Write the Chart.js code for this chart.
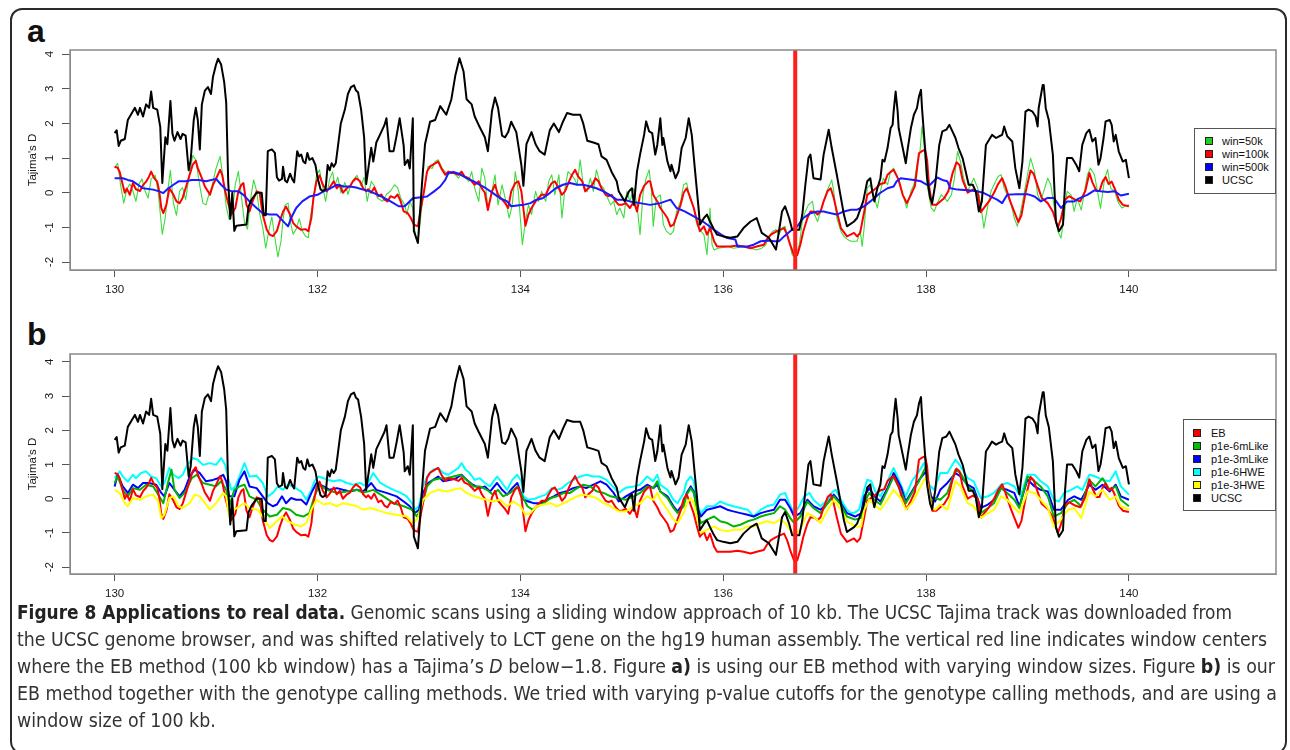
<!DOCTYPE html>
<html>
<head>
<meta charset="utf-8">
<script src="https://cdn.jsdelivr.net/npm/chart.js@4.4.1/dist/chart.umd.min.js"></script>
<style>
  body { margin: 0; width: 1290px; height: 750px; overflow: hidden; position: relative; background: #fff; font-family: "Liberation Sans", Arial, sans-serif; }
  .frame { position: absolute; left: 10px; top: 8px; width: 1277px; height: 746px; border: 2px solid #2a2a2a; border-radius: 12px; box-sizing: border-box; }
  canvas { position: absolute; left: 0; }
  #chartA { top: 0; }
  #chartB { top: 304px; }
  .tag { position: absolute; left: 27px; font-weight: bold; font-size: 32px; line-height: 32px; color: #111; }
  .legend { position: absolute; border: 1px solid #555; background: #fff; box-sizing: border-box; font-size: 11px; color: #111; }
  .legend .row { height: 13px; line-height: 13px; white-space: nowrap; position: relative; }
  .legend .key { position: absolute; top: 2px; width: 8px; height: 8px; border: 1px solid #222; box-sizing: border-box; }
  .legend .txt { position: absolute; top: 0; }
  #caption { position: absolute; left: 17px; top: 599px; font-family: "Liberation Sans Narrow", "DejaVu Sans Condensed", "Liberation Sans", sans-serif; font-stretch: condensed; font-size: 19px; color: #333; }
  #caption .cl { height: 27px; line-height: 27px; white-space: nowrap; transform-origin: 0 0; }
  #caption b { color: #222; }
</style>
</head>
<body>
<div class="frame"></div>
<div class="tag" style="top:15px">a</div>
<div class="tag" style="top:318px">b</div>
<canvas id="chartA" width="1290" height="305"></canvas>
<canvas id="chartB" width="1290" height="305"></canvas>
<div class="legend" id="legendA" style="left:1194px;top:128px;width:82px;height:66px;padding-top:6px"></div>
<div class="legend" id="legendB" style="left:1183px;top:419px;width:93px;height:92px;padding-top:7px"></div>
<div id="caption">
  <div class="cl"><b>Figure 8 Applications to real data.</b> Genomic scans using a sliding window approach of 10 kb. The UCSC Tajima track was downloaded from</div>
  <div class="cl">the UCSC genome browser, and was shifted relatively to LCT gene on the hg19 human assembly. The vertical red line indicates window centers</div>
  <div class="cl">where the EB method (100 kb window) has a Tajima’s <i>D</i> below−1.8. Figure <b>a)</b> is using our EB method with varying window sizes. Figure <b>b)</b> is our</div>
  <div class="cl">EB method together with the genotype calling methods. We tried with varying p-value cutoffs for the genotype calling methods, and are using a</div>
  <div class="cl">window size of 100 kb.</div>
</div>
<script>
// positions in Mb, Tajima's D values
const xTicks = [130, 132, 134, 136, 138, 140];
const yTicks = [-2, -1, 0, 1, 2, 3, 4];
const cutoffPos = [136.71];

const ucsc = [[130.00,1.72],[130.02,1.80],[130.04,1.35],[130.06,1.50],[130.10,1.55],[130.13,2.10],[130.17,2.30],[130.20,2.45],[130.23,2.25],[130.25,2.45],[130.28,2.20],[130.31,2.55],[130.34,2.45],[130.36,2.92],[130.38,2.45],[130.42,2.40],[130.45,1.90],[130.47,0.28],[130.50,1.60],[130.52,1.40],[130.55,2.65],[130.57,1.70],[130.59,1.50],[130.62,1.75],[130.65,1.55],[130.67,1.70],[130.70,1.65],[130.73,0.65],[130.75,0.95],[130.78,2.10],[130.80,2.45],[130.82,2.10],[130.84,1.25],[130.86,2.55],[130.89,2.95],[130.92,3.05],[130.95,2.85],[130.97,3.35],[131.00,3.70],[131.02,3.87],[131.05,3.70],[131.08,3.20],[131.10,2.60],[131.12,0.30],[131.14,-0.75],[131.16,0.00],[131.18,-1.10],[131.20,-0.95],[131.30,-0.92],[131.32,-0.40],[131.35,-0.20],[131.40,0.00],[131.45,0.00],[131.47,-0.65],[131.49,-0.65],[131.51,1.20],[131.55,1.25],[131.58,1.15],[131.60,0.45],[131.62,0.35],[131.65,0.40],[131.66,0.75],[131.68,0.35],[131.70,0.30],[131.73,0.55],[131.75,0.40],[131.77,0.30],[131.80,1.20],[131.82,1.05],[131.84,1.10],[131.86,0.90],[131.88,0.85],[131.90,1.15],[131.92,0.95],[131.95,1.00],[131.98,0.80],[132.00,0.45],[132.03,0.10],[132.05,0.05],[132.08,0.10],[132.10,0.80],[132.12,0.65],[132.14,0.85],[132.16,0.75],[132.18,0.85],[132.20,1.30],[132.23,2.00],[132.27,2.40],[132.30,2.85],[132.33,3.05],[132.36,3.10],[132.38,2.95],[132.40,2.90],[132.43,2.40],[132.46,1.60],[132.48,0.25],[132.53,1.30],[132.55,0.90],[132.58,1.45],[132.62,1.70],[132.66,1.95],[132.68,2.15],[132.71,1.20],[132.75,1.20],[132.78,1.65],[132.81,2.15],[132.85,1.35],[132.86,0.80],[132.89,0.95],[132.91,0.70],[132.94,2.15],[132.95,-1.10],[132.99,-1.45],[133.03,0.25],[133.06,1.40],[133.11,2.05],[133.16,2.10],[133.21,2.50],[133.27,2.25],[133.32,2.70],[133.36,3.40],[133.40,3.88],[133.44,3.50],[133.47,2.70],[133.52,2.55],[133.55,2.20],[133.59,1.95],[133.65,1.60],[133.68,1.20],[133.72,2.35],[133.75,2.75],[133.78,2.45],[133.82,1.65],[133.85,1.60],[133.88,1.75],[133.91,2.05],[133.96,1.75],[134.01,0.80],[134.03,0.20],[134.06,1.40],[134.11,1.75],[134.15,1.40],[134.19,1.20],[134.24,1.10],[134.29,1.80],[134.33,2.00],[134.38,1.75],[134.42,2.05],[134.46,2.30],[134.52,2.25],[134.59,2.25],[134.62,2.00],[134.66,1.50],[134.72,1.45],[134.77,1.40],[134.80,1.05],[134.85,0.95],[134.90,0.60],[134.95,0.33],[134.97,0.04],[135.03,-0.25],[135.07,0.04],[135.10,0.13],[135.12,-0.35],[135.15,0.61],[135.18,1.10],[135.22,1.67],[135.24,2.06],[135.27,1.77],[135.30,1.72],[135.33,1.10],[135.35,1.38],[135.38,2.15],[135.40,1.38],[135.41,1.58],[135.45,0.90],[135.48,0.62],[135.49,0.81],[135.53,0.42],[135.56,0.62],[135.59,1.29],[135.63,1.58],[135.66,2.15],[135.69,1.67],[135.72,0.71],[135.76,-0.54],[135.77,-0.92],[135.81,-0.73],[135.84,-0.63],[135.87,-0.83],[135.91,-1.07],[135.94,-1.21],[136.00,-1.26],[136.07,-1.30],[136.14,-1.26],[136.20,-1.02],[136.27,-0.83],[136.33,-0.73],[136.38,-1.16],[136.45,-1.30],[136.52,-1.64],[136.55,-1.11],[136.58,-0.54],[136.61,-0.39],[136.65,-0.73],[136.68,-1.07],[136.75,-1.07],[136.78,-0.63],[136.81,0.23],[136.84,1.00],[136.86,1.10],[136.89,0.42],[136.96,0.38],[136.99,1.10],[137.04,1.82],[137.07,1.29],[137.12,0.52],[137.19,-0.63],[137.22,-0.97],[137.29,-0.83],[137.32,-0.73],[137.35,-0.49],[137.38,-0.25],[137.42,0.33],[137.45,0.42],[137.47,0.04],[137.49,-0.25],[137.52,0.13],[137.55,0.42],[137.57,0.95],[137.59,0.90],[137.62,1.29],[137.65,1.86],[137.67,1.96],[137.68,2.34],[137.70,2.92],[137.72,2.34],[137.73,1.86],[137.77,1.29],[137.80,0.85],[137.82,1.29],[137.85,1.86],[137.88,2.25],[137.91,2.44],[137.93,2.78],[137.95,2.97],[137.96,2.44],[137.99,1.29],[138.01,0.42],[138.04,-0.15],[138.06,-0.30],[138.09,0.23],[138.13,1.38],[138.16,1.77],[138.20,1.82],[138.23,1.96],[138.26,1.77],[138.29,1.58],[138.32,1.29],[138.36,1.00],[138.39,0.62],[138.42,0.23],[138.46,0.23],[138.49,0.04],[138.52,-0.54],[138.55,-0.25],[138.59,1.38],[138.62,1.52],[138.65,1.67],[138.69,1.58],[138.72,1.63],[138.75,1.67],[138.77,1.91],[138.80,1.63],[138.85,1.48],[138.88,0.71],[138.92,0.13],[138.95,0.90],[138.98,2.34],[139.01,2.40],[139.05,2.34],[139.08,2.20],[139.10,1.91],[139.11,2.44],[139.15,3.11],[139.16,3.11],[139.18,2.44],[139.21,2.10],[139.25,1.10],[139.28,-0.83],[139.31,-1.11],[139.35,-0.92],[139.37,0.23],[139.39,1.00],[139.44,1.00],[139.48,0.81],[139.51,0.62],[139.54,1.38],[139.58,1.72],[139.61,1.82],[139.64,1.48],[139.67,1.58],[139.70,0.81],[139.72,1.00],[139.75,1.58],[139.77,2.06],[139.81,2.10],[139.83,1.96],[139.85,1.48],[139.87,1.67],[139.90,1.19],[139.94,0.90],[139.97,0.95],[140.00,0.42]];

// EB method, 100 kb window (same track as win=100k)
const eb100k = [[130.00,0.75],[130.03,0.72],[130.05,0.60],[130.08,0.23],[130.10,0.00],[130.12,0.12],[130.15,-0.06],[130.18,0.28],[130.21,0.10],[130.25,0.05],[130.28,0.22],[130.31,0.32],[130.34,0.47],[130.36,0.61],[130.39,0.42],[130.42,0.32],[130.44,0.04],[130.46,-0.44],[130.48,-0.59],[130.51,-0.35],[130.54,0.13],[130.58,-0.06],[130.61,-0.25],[130.64,-0.30],[130.67,-0.15],[130.71,0.23],[130.74,0.52],[130.77,0.81],[130.80,0.92],[130.82,0.71],[130.86,0.42],[130.89,0.18],[130.92,0.04],[130.94,-0.06],[130.97,0.23],[131.01,0.47],[131.04,0.66],[131.06,0.52],[131.09,0.04],[131.12,-0.30],[131.15,-0.63],[131.19,-0.44],[131.22,0.04],[131.25,0.23],[131.27,0.28],[131.30,-0.35],[131.33,-0.54],[131.36,-0.25],[131.40,0.04],[131.43,0.00],[131.46,-0.63],[131.50,-1.07],[131.53,-1.21],[131.56,-1.25],[131.60,-1.10],[131.63,-0.80],[131.66,-0.55],[131.69,-0.40],[131.73,-0.63],[131.76,-0.87],[131.79,-0.97],[131.84,-1.07],[131.88,-1.05],[131.91,-1.11],[131.94,-0.72],[131.96,-0.15],[131.99,0.33],[132.02,0.50],[132.05,0.25],[132.09,0.04],[132.12,0.15],[132.16,0.33],[132.19,0.13],[132.22,0.23],[132.25,0.00],[132.29,0.13],[132.32,0.18],[132.35,0.33],[132.38,0.42],[132.42,0.33],[132.45,0.13],[132.48,0.04],[132.50,0.10],[132.53,0.00],[132.56,0.15],[132.60,-0.10],[132.63,-0.05],[132.66,-0.20],[132.69,-0.25],[132.72,-0.10],[132.76,-0.15],[132.79,-0.05],[132.82,-0.25],[132.85,-0.54],[132.89,-0.59],[132.92,-0.73],[132.95,-0.92],[132.99,-0.97],[133.02,-0.44],[133.05,0.04],[133.08,0.61],[133.11,0.76],[133.16,0.85],[133.19,0.90],[133.22,0.71],[133.26,0.52],[133.29,0.61],[133.32,0.57],[133.35,0.57],[133.39,0.52],[133.42,0.61],[133.45,0.47],[133.49,0.42],[133.52,0.33],[133.55,0.23],[133.59,0.33],[133.62,0.13],[133.65,0.00],[133.68,-0.50],[133.72,0.04],[133.75,0.23],[133.78,-0.06],[133.82,-0.20],[133.85,-0.30],[133.88,-0.44],[133.91,0.04],[133.95,0.28],[133.98,0.33],[134.01,0.04],[134.05,-0.95],[134.08,-0.63],[134.11,-0.44],[134.15,-0.25],[134.18,-0.15],[134.21,-0.06],[134.25,-0.06],[134.28,0.13],[134.31,0.28],[134.34,0.33],[134.38,0.13],[134.41,-0.06],[134.44,0.04],[134.48,0.33],[134.51,0.52],[134.54,0.66],[134.57,0.47],[134.61,0.33],[134.64,0.04],[134.67,0.13],[134.71,0.23],[134.74,0.42],[134.77,0.33],[134.80,0.13],[134.84,-0.06],[134.87,-0.10],[134.90,-0.06],[134.94,-0.25],[134.97,-0.35],[135.00,-0.35],[135.04,-0.30],[135.08,-0.44],[135.12,-0.25],[135.15,-0.54],[135.18,-0.06],[135.22,0.20],[135.26,0.33],[135.28,0.33],[135.31,-0.06],[135.35,-0.25],[135.38,-0.44],[135.42,-0.60],[135.45,-0.73],[135.48,-0.97],[135.51,-0.92],[135.55,-0.60],[135.58,-0.35],[135.61,0.00],[135.64,0.13],[135.67,-0.10],[135.71,-0.44],[135.74,-0.80],[135.77,-1.11],[135.81,-0.97],[135.84,-1.21],[135.87,-1.02],[135.91,-1.40],[135.94,-1.55],[136.00,-1.55],[136.07,-1.55],[136.14,-1.52],[136.20,-1.55],[136.27,-1.60],[136.33,-1.55],[136.40,-1.50],[136.43,-1.35],[136.47,-1.21],[136.53,-1.11],[136.60,-1.02],[136.63,-1.21],[136.66,-1.50],[136.70,-1.82],[136.73,-1.80],[136.76,-1.50],[136.79,-1.11],[136.83,-0.73],[136.86,-0.54],[136.90,-0.55],[136.93,-0.63],[136.96,-0.54],[136.99,-0.25],[137.03,0.05],[137.06,0.13],[137.09,-0.15],[137.12,-0.54],[137.16,-1.02],[137.22,-1.26],[137.29,-1.16],[137.32,-1.26],[137.35,-1.16],[137.39,-0.55],[137.42,-0.06],[137.49,0.09],[137.55,0.25],[137.59,0.28],[137.62,0.52],[137.65,0.60],[137.68,0.66],[137.73,0.37],[137.77,-0.06],[137.81,-0.30],[137.85,-0.06],[137.89,0.20],[137.93,1.14],[137.96,1.20],[137.99,1.24],[138.01,0.95],[138.03,0.18],[138.06,-0.35],[138.10,-0.35],[138.14,-0.25],[138.18,-0.15],[138.22,0.05],[138.26,0.55],[138.30,0.88],[138.33,0.80],[138.36,0.37],[138.41,0.00],[138.46,0.09],[138.51,0.00],[138.54,-0.56],[138.58,-0.40],[138.62,-0.25],[138.67,0.00],[138.71,0.25],[138.75,0.42],[138.78,0.20],[138.83,-0.25],[138.87,-0.55],[138.91,-0.85],[138.94,-0.65],[138.98,0.00],[139.03,0.64],[139.06,0.55],[139.10,0.20],[139.14,-0.15],[139.20,-0.30],[139.25,-0.55],[139.30,-1.00],[139.33,-0.75],[139.37,-0.20],[139.41,-0.10],[139.47,-0.20],[139.52,-0.25],[139.57,0.05],[139.61,0.57],[139.64,0.30],[139.68,0.05],[139.71,0.05],[139.74,0.32],[139.77,0.45],[139.80,0.25],[139.83,0.32],[139.87,0.05],[139.90,-0.20],[139.94,-0.35],[140.00,-0.39]];

const win50k = [[130.00,0.72],[130.03,0.85],[130.06,0.20],[130.09,-0.30],[130.12,0.10],[130.15,0.25],[130.18,0.05],[130.21,-0.25],[130.24,0.25],[130.27,0.40],[130.30,0.05],[130.33,-0.15],[130.36,0.40],[130.40,0.50],[130.43,0.00],[130.47,-1.20],[130.50,-0.70],[130.53,0.20],[130.55,0.65],[130.58,-0.30],[130.61,-0.65],[130.64,0.05],[130.67,0.15],[130.70,-0.20],[130.73,0.40],[130.77,1.08],[130.80,0.95],[130.84,0.20],[130.87,-0.30],[130.90,-0.35],[130.93,-0.05],[130.96,0.20],[131.00,0.70],[131.04,1.05],[131.07,0.40],[131.10,-0.40],[131.13,-0.78],[131.16,-0.60],[131.19,0.25],[131.22,0.62],[131.25,-0.10],[131.28,-0.85],[131.31,-1.05],[131.34,-0.20],[131.37,0.37],[131.40,0.05],[131.43,-0.60],[131.46,-1.00],[131.49,-1.60],[131.52,-1.10],[131.55,-0.70],[131.58,-1.30],[131.61,-1.85],[131.64,-1.40],[131.66,-0.80],[131.68,-0.35],[131.71,-0.30],[131.73,-0.80],[131.76,-1.20],[131.79,-1.05],[131.82,-0.75],[131.85,-1.10],[131.88,-1.25],[131.91,-1.30],[131.93,-0.70],[131.96,-0.20],[131.99,0.50],[132.02,0.66],[132.05,0.20],[132.08,-0.25],[132.12,0.40],[132.15,0.60],[132.17,0.20],[132.20,0.45],[132.23,0.00],[132.27,0.30],[132.30,-0.05],[132.33,0.25],[132.36,0.40],[132.39,0.50],[132.43,0.20],[132.46,0.45],[132.49,-0.25],[132.53,0.33],[132.56,0.20],[132.59,-0.15],[132.64,-0.25],[132.68,-0.05],[132.72,0.05],[132.76,0.23],[132.79,0.15],[132.82,-0.15],[132.86,-0.35],[132.88,-0.63],[132.91,-0.25],[132.94,-0.45],[132.96,-1.11],[132.98,-1.40],[133.00,-1.20],[133.03,-0.35],[133.06,0.23],[133.09,0.76],[133.13,0.70],[133.16,0.90],[133.19,0.95],[133.23,0.70],[133.26,0.60],[133.29,0.52],[133.32,0.61],[133.36,0.52],[133.39,0.42],[133.42,0.57],[133.45,0.47],[133.49,0.33],[133.52,0.61],[133.55,0.13],[133.59,-0.25],[133.62,0.71],[133.65,0.42],[133.68,-0.44],[133.72,0.04],[133.75,0.52],[133.78,-0.35],[133.82,0.23],[133.85,-0.15],[133.87,-0.44],[133.89,-0.73],[133.92,-0.35],[133.95,0.61],[133.98,0.04],[134.02,-1.50],[134.05,-0.83],[134.08,-0.35],[134.11,-0.63],[134.15,0.04],[134.18,-0.25],[134.21,0.04],[134.25,-0.25],[134.28,0.33],[134.31,0.52],[134.34,-0.06],[134.38,0.52],[134.41,-0.73],[134.44,0.13],[134.47,0.61],[134.53,0.42],[134.56,0.23],[134.59,0.95],[134.62,0.23],[134.66,0.04],[134.69,0.42],[134.72,0.04],[134.75,0.66],[134.79,0.23],[134.82,0.13],[134.86,-0.15],[134.89,-0.35],[134.92,-0.25],[134.95,-0.63],[134.98,-0.44],[135.02,-0.73],[135.05,0.04],[135.08,-0.25],[135.12,0.13],[135.15,-0.35],[135.18,-1.21],[135.21,0.00],[135.24,0.42],[135.27,0.66],[135.29,0.13],[135.31,-0.97],[135.34,-0.15],[135.38,-0.06],[135.41,-0.92],[135.44,-1.11],[135.48,-1.21],[135.51,-1.11],[135.54,-0.54],[135.58,-0.25],[135.61,0.23],[135.64,0.28],[135.67,-0.15],[135.71,-0.44],[135.74,-0.92],[135.78,-1.11],[135.81,-1.21],[135.84,-1.79],[135.86,-0.97],[135.87,-0.44],[135.89,-1.50],[135.91,-1.65],[135.95,-1.60],[136.00,-1.58],[136.05,-1.55],[136.10,-1.60],[136.15,-1.58],[136.20,-1.55],[136.27,-1.60],[136.33,-1.65],[136.38,-1.60],[136.42,-1.50],[136.45,-1.26],[136.49,-1.11],[136.52,-1.06],[136.55,-1.21],[136.58,-1.02],[136.61,-0.97],[136.65,-1.40],[136.68,-1.79],[136.71,-1.88],[136.75,-1.50],[136.78,-0.83],[136.81,-0.54],[136.84,-0.35],[136.88,-0.25],[136.90,-0.63],[136.93,-0.83],[136.96,-0.54],[136.99,-0.25],[137.02,0.04],[137.05,0.23],[137.07,0.37],[137.09,0.04],[137.12,-0.73],[137.16,-1.11],[137.19,-1.26],[137.23,-1.36],[137.26,-1.40],[137.32,-1.40],[137.35,-1.10],[137.37,-1.55],[137.39,-1.00],[137.42,0.13],[137.45,0.23],[137.49,-0.15],[137.52,-0.44],[137.55,0.04],[137.58,0.42],[137.62,0.23],[137.65,0.61],[137.68,0.71],[137.71,0.52],[137.75,0.13],[137.78,-0.15],[137.81,-0.44],[137.85,0.04],[137.88,0.23],[137.91,0.81],[137.94,1.19],[137.96,1.91],[137.98,1.38],[138.01,0.23],[138.05,-0.44],[138.08,-0.54],[138.11,-0.30],[138.15,-0.06],[138.18,-0.15],[138.21,-0.25],[138.25,-0.06],[138.28,0.42],[138.31,1.19],[138.34,0.90],[138.37,0.42],[138.41,0.04],[138.44,0.23],[138.47,0.42],[138.51,0.13],[138.54,-0.35],[138.57,-1.02],[138.61,-0.35],[138.64,0.04],[138.67,0.23],[138.71,0.47],[138.74,0.52],[138.77,0.13],[138.80,-0.06],[138.84,-0.35],[138.87,-0.73],[138.90,-0.97],[138.94,-0.44],[138.97,0.04],[139.00,0.52],[139.03,1.00],[139.07,0.61],[139.10,-0.06],[139.13,-0.25],[139.16,0.04],[139.20,0.42],[139.23,0.23],[139.26,-0.35],[139.30,-1.11],[139.33,-1.31],[139.36,-0.73],[139.39,0.04],[139.43,-0.06],[139.46,-0.54],[139.49,-0.15],[139.53,-0.50],[139.56,0.00],[139.59,0.52],[139.62,0.71],[139.66,0.52],[139.69,0.04],[139.72,-0.45],[139.76,0.40],[139.79,0.67],[139.82,0.13],[139.86,0.04],[139.89,-0.25],[139.93,-0.44],[139.96,-0.39],[140.00,-0.35]];

const win500k = [[130.00,0.42],[130.08,0.42],[130.13,0.37],[130.18,0.33],[130.28,0.13],[130.38,0.09],[130.44,0.04],[130.48,-0.01],[130.53,0.13],[130.58,0.23],[130.63,0.33],[130.70,0.33],[130.76,0.37],[130.83,0.37],[130.90,0.33],[131.00,0.40],[131.05,0.23],[131.10,0.09],[131.16,0.04],[131.22,0.04],[131.27,-0.06],[131.33,-0.25],[131.40,-0.44],[131.46,-0.59],[131.53,-0.63],[131.60,-0.63],[131.66,-0.82],[131.71,-0.97],[131.74,-0.73],[131.79,-0.44],[131.85,-0.25],[131.92,-0.11],[132.00,-0.06],[132.06,0.04],[132.13,0.13],[132.19,0.23],[132.26,0.18],[132.32,0.18],[132.38,0.15],[132.45,0.09],[132.52,0.04],[132.62,-0.10],[132.69,-0.20],[132.75,-0.30],[132.80,-0.39],[132.86,-0.39],[132.94,-0.16],[133.08,-0.11],[133.15,0.04],[133.21,0.18],[133.26,0.37],[133.29,0.57],[133.34,0.60],[133.40,0.54],[133.47,0.42],[133.54,0.33],[133.60,0.23],[133.66,0.13],[133.73,-0.01],[133.80,-0.16],[133.87,-0.25],[133.91,-0.39],[134.03,-0.35],[134.10,-0.30],[134.16,-0.20],[134.22,-0.16],[134.29,-0.01],[134.35,0.13],[134.42,0.23],[134.49,0.28],[134.56,0.23],[134.62,0.23],[134.69,0.18],[134.75,0.13],[134.82,0.04],[134.88,-0.06],[134.95,-0.20],[135.02,-0.20],[135.08,-0.25],[135.18,-0.30],[135.28,-0.35],[135.38,-0.30],[135.48,-0.20],[135.54,-0.44],[135.62,-0.54],[135.71,-0.68],[135.80,-0.83],[135.91,-1.07],[135.98,-1.21],[136.04,-1.31],[136.12,-1.35],[136.14,-1.55],[136.24,-1.55],[136.30,-1.50],[136.37,-1.40],[136.44,-1.38],[136.50,-1.40],[136.55,-1.40],[136.60,-1.26],[136.66,-1.11],[136.73,-0.97],[136.79,-0.73],[136.86,-0.59],[136.93,-0.54],[136.99,-0.54],[137.06,-0.59],[137.12,-0.63],[137.19,-0.54],[137.26,-0.49],[137.32,-0.49],[137.39,-0.39],[137.45,-0.25],[137.49,-0.15],[137.55,0.00],[137.62,0.13],[137.68,0.18],[137.71,0.33],[137.75,0.42],[137.88,0.37],[137.95,0.33],[138.01,0.23],[138.04,0.23],[138.11,0.44],[138.16,0.37],[138.21,0.33],[138.24,0.13],[138.31,0.09],[138.41,0.07],[138.51,0.04],[138.57,-0.01],[138.64,-0.11],[138.70,-0.20],[138.75,-0.30],[138.80,-0.06],[138.90,-0.04],[139.00,-0.04],[139.07,-0.11],[139.13,-0.25],[139.20,-0.15],[139.26,-0.15],[139.33,-0.44],[139.39,-0.25],[139.46,-0.25],[139.52,-0.15],[139.59,-0.06],[139.66,0.07],[139.72,0.04],[139.79,0.02],[139.86,0.04],[139.92,-0.08],[140.00,-0.03]];

const p1e6mLike = [[130.00,0.46],[130.03,0.65],[130.08,0.26],[130.13,0.07],[130.18,0.31],[130.25,0.26],[130.31,0.41],[130.38,0.36],[130.44,0.07],[130.48,-0.13],[130.53,0.51],[130.56,0.85],[130.59,0.26],[130.64,0.02],[130.69,0.17],[130.76,0.60],[130.81,0.70],[130.87,0.46],[130.94,0.41],[131.00,0.36],[131.05,0.51],[131.10,0.26],[131.13,-0.22],[131.18,0.26],[131.23,0.36],[131.28,0.41],[131.33,0.07],[131.40,-0.03],[131.46,-0.32],[131.53,-0.52],[131.60,-0.47],[131.66,-0.27],[131.73,-0.32],[131.79,-0.47],[131.86,-0.52],[131.92,-0.42],[131.97,0.07],[132.02,0.41],[132.09,0.26],[132.19,0.17],[132.29,0.21],[132.39,0.26],[132.45,0.17],[132.55,0.26],[132.65,0.07],[132.75,-0.13],[132.85,-0.22],[132.93,-0.32],[132.98,-0.52],[133.03,-0.22],[133.08,0.36],[133.14,0.55],[133.21,0.60],[133.27,0.60],[133.34,0.65],[133.41,0.70],[133.47,0.55],[133.54,0.36],[133.60,0.36],[133.67,0.26],[133.73,0.12],[133.78,0.26],[133.83,0.07],[133.90,0.17],[133.97,0.36],[134.02,0.07],[134.07,-0.22],[134.12,-0.32],[134.17,-0.22],[134.23,-0.13],[134.30,0.02],[134.36,0.07],[134.43,0.17],[134.49,0.17],[134.56,0.31],[134.62,0.41],[134.69,0.36],[134.75,0.22],[134.82,0.17],[134.89,0.07],[135.04,-0.03],[135.12,0.07],[135.18,0.17],[135.25,0.36],[135.31,0.31],[135.35,0.51],[135.38,0.21],[135.45,0.02],[135.51,-0.27],[135.55,-0.42],[135.61,-0.22],[135.64,0.12],[135.68,0.31],[135.71,0.17],[135.74,-0.32],[135.78,-0.71],[135.84,-0.61],[135.91,-0.52],[135.97,-0.66],[136.04,-0.71],[136.10,-0.81],[136.17,-0.76],[136.24,-0.66],[136.30,-0.61],[136.37,-0.52],[136.43,-0.47],[136.50,-0.42],[136.56,-0.22],[136.61,-0.32],[136.66,-0.56],[136.70,-0.71],[136.76,-0.52],[136.83,-0.08],[136.89,-0.27],[136.96,-0.42],[137.03,-0.13],[137.09,0.07],[137.16,-0.17],[137.22,-0.52],[137.30,-0.61],[137.36,-0.56],[137.39,-0.13],[137.44,0.17],[137.49,-0.03],[137.55,-0.17],[137.62,0.26],[137.68,0.65],[137.75,0.21],[137.80,-0.13],[137.86,0.17],[137.93,0.51],[138.00,0.95],[138.05,-0.13],[138.09,0.02],[138.14,-0.03],[138.21,0.17],[138.29,0.85],[138.34,0.75],[138.41,0.36],[138.47,0.21],[138.54,-0.42],[138.61,-0.27],[138.67,-0.13],[138.74,0.31],[138.80,0.17],[138.87,-0.03],[138.92,-0.27],[139.00,0.65],[139.07,0.51],[139.13,0.36],[139.20,0.07],[139.26,-0.52],[139.33,-0.42],[139.40,-0.13],[139.46,-0.03],[139.53,-0.22],[139.61,0.55],[139.67,0.36],[139.74,0.60],[139.81,0.26],[139.87,0.36],[139.92,-0.03],[140.00,-0.22]];

const p1e3mLike = [[130.00,0.36],[130.03,0.70],[130.08,0.36],[130.13,0.17],[130.18,0.41],[130.23,0.31],[130.28,0.46],[130.34,0.46],[130.41,0.41],[130.46,0.17],[130.49,0.07],[130.54,0.46],[130.59,0.26],[130.64,0.07],[130.69,0.26],[130.74,0.65],[130.79,0.85],[130.84,0.75],[130.90,0.51],[130.97,0.55],[131.02,0.60],[131.07,0.70],[131.10,0.51],[131.13,0.07],[131.18,0.07],[131.23,0.55],[131.28,0.80],[131.33,0.36],[131.40,0.31],[131.46,0.07],[131.51,-0.13],[131.56,-0.22],[131.60,-0.17],[131.65,0.07],[131.69,-0.13],[131.74,0.02],[131.79,-0.03],[131.84,-0.03],[131.89,-0.17],[131.94,0.17],[131.99,0.46],[132.06,0.36],[132.12,0.26],[132.19,0.31],[132.25,0.26],[132.32,0.21],[132.39,0.26],[132.45,0.21],[132.53,0.46],[132.58,0.26],[132.68,0.17],[132.78,0.07],[132.85,-0.08],[132.91,-0.22],[132.96,-0.42],[133.00,-0.32],[133.04,0.17],[133.09,0.46],[133.14,0.55],[133.19,0.65],[133.24,0.51],[133.30,0.55],[133.37,0.60],[133.42,0.70],[133.47,0.55],[133.53,0.41],[133.60,0.31],[133.65,0.36],[133.70,0.21],[133.77,0.46],[133.82,0.26],[133.87,0.12],[133.92,0.31],[133.97,0.46],[134.03,-0.03],[134.08,-0.08],[134.13,-0.13],[134.20,-0.13],[134.26,-0.03],[134.33,0.07],[134.39,0.17],[134.46,0.22],[134.52,0.31],[134.59,0.36],[134.65,0.31],[134.72,0.41],[134.79,0.51],[134.85,0.41],[134.92,0.17],[134.97,-0.08],[135.04,0.07],[135.12,0.21],[135.18,0.26],[135.25,0.41],[135.31,0.31],[135.35,0.41],[135.38,0.21],[135.45,0.07],[135.51,-0.22],[135.55,-0.37],[135.61,-0.13],[135.64,0.17],[135.68,0.36],[135.71,0.21],[135.74,-0.22],[135.78,-0.52],[135.84,-0.32],[135.91,-0.27],[135.97,-0.22],[136.04,-0.32],[136.10,-0.37],[136.17,-0.42],[136.24,-0.47],[136.30,-0.52],[136.37,-0.42],[136.43,-0.37],[136.50,-0.32],[136.56,-0.03],[136.61,-0.03],[136.66,-0.27],[136.70,-0.52],[136.76,-0.42],[136.83,-0.03],[136.89,-0.22],[136.96,-0.32],[137.03,-0.13],[137.09,0.12],[137.16,-0.13],[137.22,-0.42],[137.30,-0.52],[137.36,-0.43],[137.39,0.07],[137.44,0.31],[137.49,0.07],[137.55,-0.08],[137.62,0.31],[137.68,0.75],[137.75,0.36],[137.80,-0.08],[137.86,0.21],[137.93,0.55],[138.00,0.80],[138.05,0.07],[138.09,-0.08],[138.14,0.26],[138.21,0.46],[138.29,0.75],[138.34,0.65],[138.41,0.41],[138.47,0.31],[138.54,-0.27],[138.61,-0.17],[138.67,-0.03],[138.74,0.31],[138.80,0.26],[138.87,0.17],[138.92,-0.22],[139.00,0.56],[139.07,0.36],[139.13,0.26],[139.20,0.21],[139.26,-0.32],[139.33,-0.32],[139.40,-0.03],[139.46,0.07],[139.53,-0.03],[139.61,0.41],[139.67,0.26],[139.74,0.41],[139.81,0.21],[139.87,0.41],[139.92,0.07],[140.00,-0.03]];

const p1e6HWE = [[130.00,0.60],[130.05,0.80],[130.08,0.65],[130.13,0.50],[130.18,0.70],[130.21,0.60],[130.26,0.75],[130.31,0.80],[130.36,0.65],[130.41,0.60],[130.46,0.36],[130.49,0.46],[130.54,0.90],[130.58,0.70],[130.63,0.60],[130.67,0.70],[130.72,1.00],[130.77,1.19],[130.82,1.14],[130.87,0.99],[130.94,1.04],[131.00,0.99],[131.05,1.19],[131.09,0.99],[131.12,0.60],[131.15,0.26],[131.19,0.36],[131.23,0.65],[131.28,1.04],[131.33,0.65],[131.40,0.67],[131.46,0.46],[131.51,0.07],[131.56,0.17],[131.61,0.36],[131.66,0.26],[131.71,0.41],[131.76,0.36],[131.81,0.26],[131.84,0.21],[131.89,-0.03],[131.94,0.26],[131.97,0.51],[132.01,0.65],[132.06,0.60],[132.11,0.55],[132.16,0.51],[132.22,0.55],[132.29,0.46],[132.35,0.41],[132.42,0.46],[132.48,0.36],[132.55,0.75],[132.62,0.46],[132.68,0.36],[132.75,0.26],[132.82,0.17],[132.88,0.07],[132.93,-0.13],[132.96,-0.32],[133.00,-0.22],[133.04,0.36],[133.09,0.70],[133.14,0.85],[133.19,0.90],[133.24,0.75],[133.29,0.70],[133.34,0.80],[133.39,0.90],[133.42,1.04],[133.46,0.85],[133.50,0.75],[133.55,0.55],[133.60,0.60],[133.65,0.46],[133.70,0.36],[133.77,0.65],[133.82,0.46],[133.87,0.26],[133.92,0.55],[133.97,0.70],[134.01,0.51],[134.03,0.07],[134.08,-0.03],[134.14,0.00],[134.20,0.07],[134.25,0.12],[134.31,0.31],[134.36,0.26],[134.41,0.31],[134.47,0.46],[134.52,0.55],[134.59,0.65],[134.65,0.70],[134.72,0.65],[134.78,0.65],[134.85,0.55],[134.91,0.36],[134.97,0.17],[135.04,0.32],[135.12,0.36],[135.18,0.41],[135.25,0.65],[135.31,0.51],[135.35,0.70],[135.38,0.41],[135.45,0.26],[135.51,-0.03],[135.55,-0.13],[135.61,0.17],[135.64,0.51],[135.68,0.65],[135.71,0.51],[135.74,-0.13],[135.78,-0.42],[135.84,-0.22],[135.91,-0.22],[135.97,-0.08],[136.04,-0.17],[136.10,-0.22],[136.17,-0.27],[136.24,-0.32],[136.30,-0.52],[136.37,-0.32],[136.43,-0.22],[136.50,-0.17],[136.56,0.12],[136.61,0.17],[136.65,-0.13],[136.70,-0.42],[136.75,-0.22],[136.80,0.07],[136.85,0.17],[136.89,-0.03],[136.96,-0.22],[137.03,-0.03],[137.08,0.21],[137.11,0.26],[137.16,-0.03],[137.22,-0.32],[137.26,-0.42],[137.30,-0.40],[137.34,-0.32],[137.39,0.26],[137.42,0.56],[137.46,0.51],[137.50,0.21],[137.55,0.07],[137.62,0.51],[137.68,0.90],[137.73,0.56],[137.80,0.07],[137.86,0.51],[137.93,0.80],[137.98,1.04],[138.03,0.41],[138.08,0.26],[138.14,0.75],[138.21,0.75],[138.29,1.14],[138.34,0.95],[138.41,0.60],[138.47,0.51],[138.54,0.02],[138.61,0.07],[138.67,0.17],[138.74,0.41],[138.80,0.46],[138.87,0.36],[138.93,0.07],[139.00,0.70],[139.07,0.70],[139.13,0.51],[139.20,0.36],[139.26,-0.03],[139.31,-0.08],[139.36,0.17],[139.43,0.26],[139.49,0.36],[139.54,0.26],[139.61,0.70],[139.67,0.65],[139.74,0.55],[139.81,0.51],[139.87,0.80],[139.92,0.36],[140.00,0.12]];

const p1e3HWE = [[130.00,0.26],[130.05,0.17],[130.10,-0.13],[130.13,-0.22],[130.18,0.02],[130.25,-0.03],[130.31,0.07],[130.38,0.12],[130.43,-0.08],[130.46,-0.57],[130.49,-0.47],[130.54,0.02],[130.58,0.07],[130.63,-0.22],[130.67,-0.27],[130.74,-0.13],[130.79,0.12],[130.84,0.07],[130.89,-0.13],[130.94,-0.32],[131.00,-0.13],[131.07,0.17],[131.10,0.07],[131.13,-0.52],[131.18,-0.32],[131.23,-0.22],[131.28,-0.13],[131.33,-0.27],[131.41,-0.32],[131.48,-0.61],[131.53,-0.86],[131.58,-0.71],[131.65,-0.52],[131.71,-0.66],[131.78,-0.76],[131.84,-0.81],[131.89,-0.71],[131.94,-0.32],[131.99,-0.03],[132.06,-0.17],[132.12,-0.13],[132.19,-0.22],[132.25,-0.13],[132.32,-0.17],[132.39,-0.22],[132.45,-0.32],[132.52,-0.27],[132.58,-0.32],[132.68,-0.42],[132.78,-0.47],[132.88,-0.52],[132.94,-0.71],[132.99,-0.57],[133.04,-0.03],[133.11,0.17],[133.19,0.26],[133.27,0.21],[133.34,0.26],[133.41,0.31],[133.47,0.17],[133.54,0.07],[133.60,0.02],[133.67,-0.03],[133.73,-0.08],[133.80,-0.03],[133.87,-0.22],[133.93,-0.08],[134.00,-0.22],[134.05,-0.47],[134.10,-0.42],[134.16,-0.22],[134.23,-0.17],[134.30,-0.13],[134.36,-0.22],[134.43,-0.13],[134.49,-0.03],[134.56,0.07],[134.62,0.12],[134.69,0.07],[134.75,0.02],[134.82,-0.13],[134.89,-0.22],[134.97,-0.37],[135.04,-0.37],[135.12,-0.22],[135.18,-0.13],[135.25,0.07],[135.31,-0.03],[135.35,0.17],[135.38,-0.03],[135.45,-0.32],[135.51,-0.61],[135.55,-0.71],[135.61,-0.42],[135.64,-0.13],[135.68,0.02],[135.71,-0.13],[135.74,-0.52],[135.78,-1.00],[135.84,-0.91],[135.91,-0.81],[135.97,-0.91],[136.04,-0.95],[136.10,-0.91],[136.17,-0.91],[136.24,-0.81],[136.30,-0.81],[136.37,-0.71],[136.43,-0.66],[136.50,-0.71],[136.56,-0.61],[136.61,-0.71],[136.66,-0.91],[136.70,-1.05],[136.76,-0.91],[136.83,-0.42],[136.89,-0.52],[136.96,-0.71],[137.03,-0.32],[137.09,-0.03],[137.16,-0.32],[137.22,-0.66],[137.30,-0.81],[137.36,-0.81],[137.39,-0.32],[137.44,-0.03],[137.49,-0.17],[137.55,-0.32],[137.62,-0.03],[137.68,0.26],[137.75,0.02],[137.80,-0.32],[137.86,-0.13],[137.93,0.26],[138.00,0.65],[138.05,-0.22],[138.09,-0.32],[138.14,-0.17],[138.21,-0.32],[138.29,0.51],[138.34,0.36],[138.41,-0.13],[138.47,-0.22],[138.54,-0.56],[138.61,-0.42],[138.67,-0.32],[138.74,0.07],[138.80,-0.03],[138.87,-0.27],[138.92,-0.42],[139.00,0.21],[139.07,0.17],[139.13,-0.03],[139.20,-0.27],[139.26,-0.81],[139.33,-0.61],[139.40,-0.32],[139.46,-0.27],[139.53,-0.56],[139.61,0.21],[139.67,0.07],[139.74,0.26],[139.81,-0.03],[139.87,0.07],[139.92,-0.22],[140.00,-0.32]];

Chart.defaults.font.family = '"Liberation Sans", Arial, sans-serif';
Chart.defaults.color = "#222";

// order: lower = drawn on top
const panelA = [
  { label: "win=50k", pts: win50k, line: "#3ddc3d", key: "#22cc22", width: 1.1, order: 4 },
  { label: "win=100k", pts: eb100k, line: "#ff0000", key: "#ff0000", width: 2, order: 3 },
  { label: "win=500k", pts: win500k, line: "#1a1aff", key: "#0000ff", width: 2, order: 2 },
  { label: "UCSC", pts: ucsc, line: "#000000", key: "#000000", width: 2, order: 1 },
];
const panelB = [
  { label: "EB", pts: eb100k, line: "#ff0000", key: "#ff0000", width: 2, order: 3 },
  { label: "p1e-6mLike", pts: p1e6mLike, line: "#00b400", key: "#00c000", width: 2, order: 4 },
  { label: "p1e-3mLike", pts: p1e3mLike, line: "#0000ff", key: "#0000ff", width: 2, order: 5 },
  { label: "p1e-6HWE", pts: p1e6HWE, line: "#00ffff", key: "#00ffff", width: 2, order: 6 },
  { label: "p1e-3HWE", pts: p1e3HWE, line: "#ffff00", key: "#ffff00", width: 2, order: 2 },
  { label: "UCSC", pts: ucsc, line: "#000000", key: "#000000", width: 2, order: 1 },
];

const boxAndCutoff = {
  id: "boxAndCutoff",
  afterDatasetsDraw(chart) {
    const { ctx, chartArea: a, scales } = chart;
    ctx.save();
    ctx.strokeStyle = "#ff1e1e";
    ctx.lineWidth = 4;
    cutoffPos.forEach((p) => {
      const x = scales.x.getPixelForValue(p);
      ctx.beginPath();
      ctx.moveTo(x, a.top);
      ctx.lineTo(x, a.bottom);
      ctx.stroke();
    });
    ctx.strokeStyle = "#8a8a8a";
    ctx.lineWidth = 1.5;
    ctx.strokeRect(a.left, a.top, a.right - a.left, a.bottom - a.top);
    ctx.restore();
  },
};

function makeChart(canvasId, list, yMin, yMax) {
  const datasets = list.map((s) => ({
    label: s.label,
    data: s.pts.map((p) => ({ x: p[0], y: p[1] })),
    borderColor: s.line,
    backgroundColor: s.line,
    borderWidth: s.width,
    pointRadius: 0,
    tension: 0,
    borderJoinStyle: "round",
    order: s.order,
  }));
  return new Chart(document.getElementById(canvasId), {
    type: "line",
    data: { datasets },
    options: {
      responsive: false,
      animation: false,
      devicePixelRatio: 1,
      layout: { padding: { top: 50, right: 14, left: 0, bottom: 0 } },
      plugins: { legend: { display: false }, tooltip: { enabled: false } },
      scales: {
        x: {
          type: "linear",
          min: 129.56,
          max: 141.45,
          afterBuildTicks: (s) => { s.ticks = xTicks.map((v) => ({ value: v })); },
          afterFit: (s) => { s.height = 35; },
          ticks: { color: "#1a1a1a", font: { size: 11.5 }, padding: 6, maxRotation: 0, autoSkip: false, callback: (v) => String(v) },
          grid: { drawOnChartArea: false, tickLength: 7, color: "#555" },
          border: { display: true, color: "#8a8a8a" },
        },
        y: {
          type: "linear",
          min: yMin,
          max: yMax,
          afterBuildTicks: (s) => { s.ticks = yTicks.map((v) => ({ value: v })); },
          afterFit: (s) => { s.width = 70; },
          ticks: { color: "#1a1a1a", font: { size: 11.5 }, minRotation: 90, maxRotation: 90, crossAlign: "center", padding: 7, callback: (v) => String(v) },
          grid: { drawOnChartArea: false, tickLength: 8, color: "#555" },
          border: { display: true, color: "#8a8a8a" },
          title: { display: true, text: "Tajima's D", color: "#1a1a1a", font: { size: 11.5 }, padding: { top: 26, bottom: 0 } },
        },
      },
    },
    plugins: [boxAndCutoff],
  });
}

function buildLegend(id, list) {
  const box = document.getElementById(id);
  const keyLeft = id === "legendA" ? 10 : 9;
  box.innerHTML = list
    .map(
      (s) => `<div class="row"><span class="key" style="left:${keyLeft}px;background:${s.key}"></span><span class="txt" style="left:27px">${s.label}</span></div>`
    )
    .join("");
}

makeChart("chartA", panelA, -2.23, 4.12);
makeChart("chartB", panelB, -2.2, 4.23);
buildLegend("legendA", panelA);
buildLegend("legendB", panelB);

// fit each caption line to the width it has in the printed figure
const lineWidths = [1215, 1250, 1258, 1260];
const lines = document.querySelectorAll("#caption .cl");
let lastScale = 1;
lines.forEach((el, i) => {
  const r = document.createRange();
  r.selectNodeContents(el);
  const w = r.getBoundingClientRect().width;
  if (i < lineWidths.length && w > 0) lastScale = lineWidths[i] / w;
  el.style.transform = `scaleX(${lastScale})`;
});
</script>
</body>
</html>
